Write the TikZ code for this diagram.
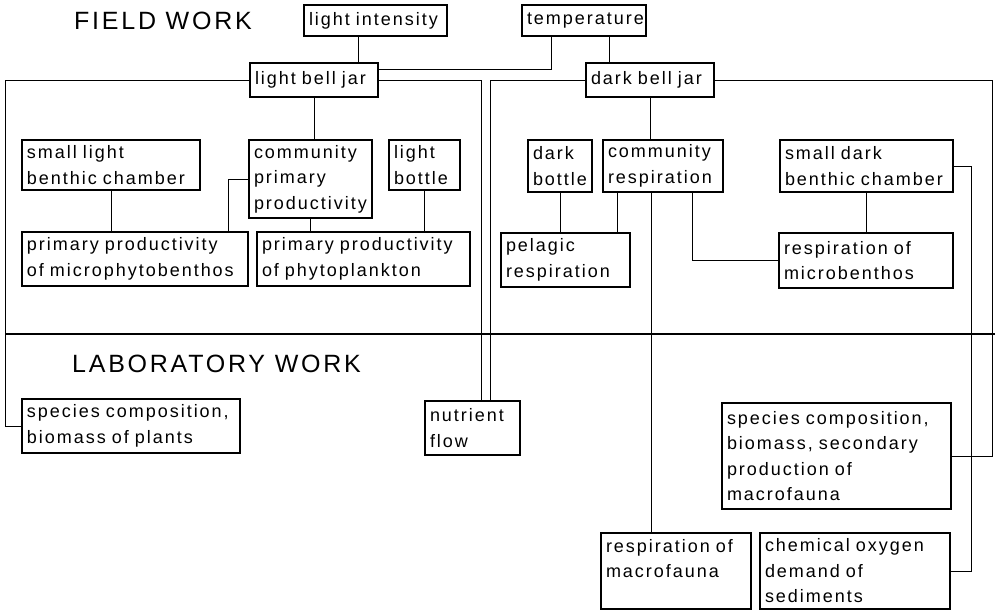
\documentclass[tikz,border=0pt]{standalone}
\usepackage{fontspec}
\setmainfont{Liberation Sans}[LetterSpace=11]
\begin{document}
\begin{tikzpicture}[x=1pt, y=-1pt,
    box/.style={draw, line width=1.6pt, anchor=north west, align=left, inner xsep=5pt, inner ysep=2pt, outer sep=0pt, font=\fontsize{18}{25.5}\selectfont},
    link/.style={line width=1pt},
    title/.style={anchor=base west, inner sep=0pt, font=\fontsize{25}{30}\selectfont}]
    \useasboundingbox (0,0) rectangle (995,613);

    % Section titles
    \node[title] (fw) at (74,29) {FIELD WORK};
    \node[title] (lw) at (72,372) {LABORATORY WORK};

    % Divider between field and laboratory work
    \draw[line width=1.4pt] (5,334) -- (995,334);

    % Measured parameters and bell jars
    \node[box, text width=133pt, minimum height=31pt] (lint) at (304,5) {light intensity};
    \node[box, text width=114pt, minimum height=31pt] (temp) at (522,5) {temperature};
    \node[box, text width=118pt, minimum height=34pt] (lbj) at (250,63) {light bell jar};
    \node[box, text width=118pt, minimum height=34pt] (dbj) at (586,63) {dark bell jar};

    % Field work, light side
    \node[box, text width=168pt, minimum height=50pt] (slbc) at (22,140) {small light\\benthic chamber};
    \node[box, text width=113pt, minimum height=78pt] (cpp) at (249,140) {community\\primary\\productivity};
    \node[box, text width=61pt, minimum height=50pt] (lbot) at (389,140) {light\\bottle};
    \node[box, text width=216pt, minimum height=54pt] (ppm) at (22,232) {primary productivity\\of microphytobenthos};
    \node[box, text width=203pt, minimum height=54pt] (ppp) at (257,232) {primary productivity\\of phytoplankton};

    % Field work, dark side
    \node[box, text width=54pt, minimum height=52pt] (dbot) at (528,140) {dark\\bottle};
    \node[box, text width=110pt, minimum height=52pt] (cres) at (603,140) {community\\respiration};
    \node[box, text width=163pt, minimum height=52pt] (sdbc) at (780,140) {small dark\\benthic chamber};
    \node[box, text width=119pt, minimum height=54pt] (pres) at (501,233) {pelagic\\respiration};
    \node[box, text width=164pt, minimum height=55pt] (rmic) at (779,233) {respiration of\\microbenthos};

    % Laboratory work
    \node[box, text width=208pt, minimum height=54pt] (spl) at (22,399) {species composition,\\biomass of plants};
    \node[box, text width=85pt, minimum height=54pt] (nflow) at (425,401) {nutrient\\flow};
    \node[box, text width=219pt, minimum height=106pt] (smac) at (722,403) {species composition,\\biomass, secondary\\production of\\macrofauna};
    \node[box, text width=140pt, minimum height=76pt] (rmac) at (601,533) {respiration of\\macrofauna\\\mbox{}};
    \node[box, text width=180pt, minimum height=76pt] (cod) at (760,533) {chemical oxygen\\demand of\\sediments};

    % Links from the top
    \draw[link] (358,0 |- lint.south) -- (358,0 |- lbj.north);
    \draw[link] (551,0 |- temp.south) |- ([yshift=11pt]lbj.east);
    \draw[link] (609,0 |- temp.south) -- (609,0 |- dbj.north);

    % Links leaving the bell jars
    \draw[link] (lbj.east) -| (481,0 |- nflow.north);
    \draw[link] (dbj.west) -| (490,0 |- nflow.north);
    \draw[link] (lbj.west) -| (5,0 |- spl.west) -- (spl.west);
    \draw[link] (dbj.east) -| (992,0 |- smac.east) -- (smac.east);
    \draw[link] (lbj.south) -- (lbj.south |- cpp.north);
    \draw[link] (dbj.south) -- (dbj.south |- cres.north);

    % Light side
    \draw[link] (slbc.south) -- (slbc.south |- ppm.north);
    \draw[link] (cpp.west) -| (228,0 |- ppm.north);
    \draw[link] (cpp.south) -- (cpp.south |- ppp.north);
    \draw[link] (lbot.south) -- (lbot.south |- ppp.north);

    % Dark side
    \draw[link] (dbot.south) -- (dbot.south |- pres.north);
    \draw[link] (617,0 |- cres.south) -- (617,0 |- pres.north);
    \draw[link] (651,0 |- cres.south) -- (651,0 |- rmac.north);
    \draw[link] (692,0 |- cres.south) |- (rmic.west);
    \draw[link] (sdbc.south) -- (sdbc.south |- rmic.north);
    \draw[link] (sdbc.east) -| (971,0 |- cod.east) -- (cod.east);

\end{tikzpicture}
\end{document}
